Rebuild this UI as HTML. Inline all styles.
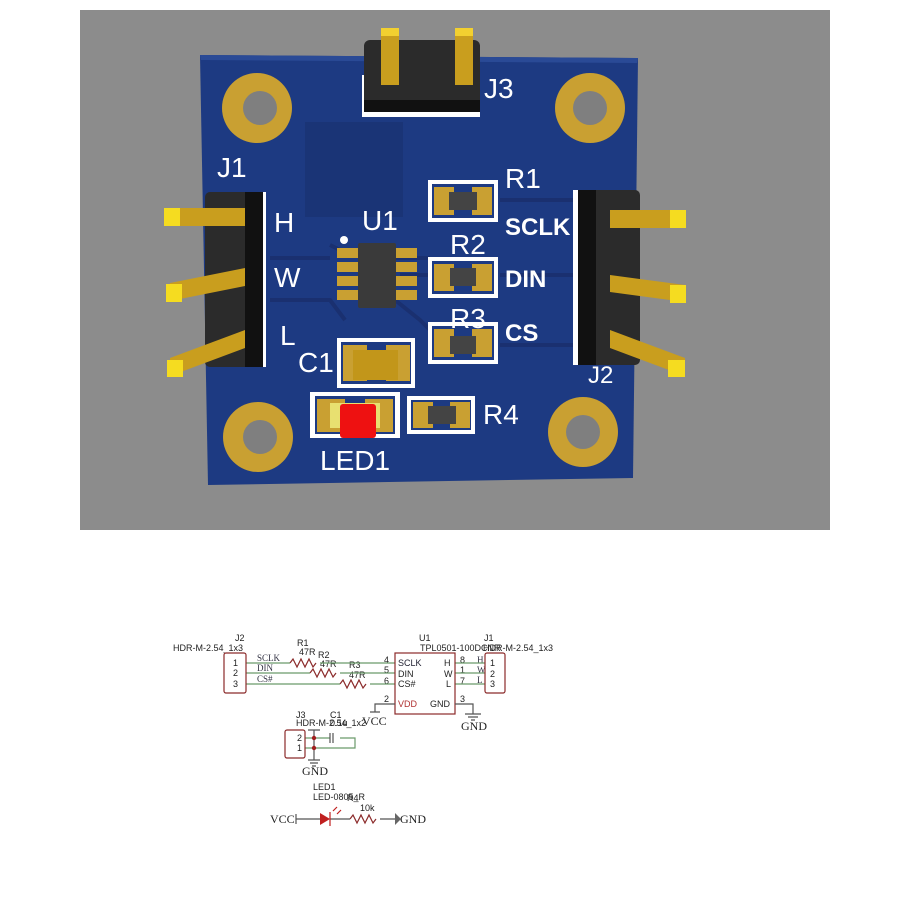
<!DOCTYPE html>
<html><head><meta charset="utf-8"><style>
html,body{margin:0;padding:0;background:#fff;width:900px;height:900px;overflow:hidden}
svg{display:block}
</style></head><body>
<svg width="900" height="900" viewBox="0 0 900 900" xmlns="http://www.w3.org/2000/svg">
<rect x="0" y="0" width="900" height="900" fill="#fff"/>
<rect x="80" y="10" width="750" height="520" fill="#8c8c8c"/>
<!-- board -->
<polygon points="200,55 638,58 633,478 208,485" fill="#1d3a82"/>
<polygon points="200,55 638,58 637,63 201,60" fill="#2a4a96"/>
<rect x="305" y="122" width="98" height="95" fill="#1a3476"/>
<!-- traces -->
<g stroke="#1a3070" stroke-width="4" fill="none">
<path d="M270,258 L330,258 M270,300 L330,300 L345,320 M330,245 L340,250 M395,258 L430,258 M400,275 L430,275 M395,300 L420,320 L430,330"/>
<path d="M500,200 L580,200 M500,275 L580,275 M500,345 L580,345"/>
</g>
<!-- mounting holes -->
<g fill="#c9a032">
<circle cx="257" cy="108" r="35"/><circle cx="590" cy="108" r="35"/>
<circle cx="258" cy="437" r="35"/><circle cx="583" cy="432" r="35"/>
</g>
<g fill="#7f7f7f">
<circle cx="260" cy="108" r="17"/><circle cx="590" cy="108" r="17"/>
<circle cx="260" cy="437" r="17"/><circle cx="583" cy="432" r="17"/>
</g>
<!-- J3 -->
<rect x="362" y="75" width="118" height="42" fill="#fff"/>
<rect x="364" y="40" width="116" height="72" rx="6" fill="#2b2b2b"/>
<rect x="364" y="100" width="116" height="12" fill="#111"/>
<rect x="381" y="30" width="18" height="55" fill="#c99e1e"/>
<rect x="455" y="30" width="18" height="55" fill="#c99e1e"/>
<rect x="381" y="28" width="18" height="8" fill="#f2d030"/>
<rect x="455" y="28" width="18" height="8" fill="#f2d030"/>
<!-- J1 -->
<rect x="250" y="192" width="16" height="175" fill="#fff"/>
<rect x="205" y="192" width="58" height="175" rx="5" fill="#2b2b2b"/>
<rect x="245" y="192" width="18" height="175" fill="#111"/>
<g fill="#c99e1e">
<rect x="170" y="208" width="75" height="18"/>
<polygon points="170,283 245,268 245,286 170,301"/>
<polygon points="170,358 245,330 245,348 170,376"/>
</g>
<g fill="#f5dc20">
<rect x="164" y="208" width="16" height="18"/><rect x="166" y="284" width="16" height="18"/><rect x="167" y="360" width="16" height="17"/>
</g>
<!-- J2 -->
<rect x="573" y="190" width="14" height="175" fill="#fff"/>
<rect x="578" y="190" width="62" height="175" rx="5" fill="#2b2b2b"/>
<rect x="578" y="190" width="18" height="175" fill="#111"/>
<g fill="#c99e1e">
<rect x="610" y="210" width="75" height="18"/>
<polygon points="610,275 685,285 685,302 610,292"/>
<polygon points="610,330 685,358 685,376 610,348"/>
</g>
<g fill="#f5dc20">
<rect x="670" y="210" width="16" height="18"/><rect x="670" y="285" width="16" height="18"/><rect x="668" y="360" width="17" height="17"/>
</g>
<!-- U1 -->
<g fill="#c9a032">
<rect x="337" y="248" width="22" height="10"/><rect x="337" y="262" width="22" height="10"/><rect x="337" y="276" width="22" height="10"/><rect x="337" y="290" width="22" height="10"/>
<rect x="395" y="248" width="22" height="10"/><rect x="395" y="262" width="22" height="10"/><rect x="395" y="276" width="22" height="10"/><rect x="395" y="290" width="22" height="10"/>
</g>
<rect x="358" y="243" width="38" height="65" rx="2" fill="#3a3a3a"/>
<circle cx="344" cy="240" r="4" fill="#fff"/>
<!-- resistors -->
<g>
<rect x="428" y="180" width="70" height="42" fill="#fff"/>
<rect x="432" y="184" width="62" height="34" fill="#1d3a82"/>
<rect x="434" y="187" width="20" height="28" fill="#c9a032"/><rect x="472" y="187" width="20" height="28" fill="#c9a032"/>
<rect x="449" y="192" width="28" height="18" fill="#444"/>
</g>
<g>
<rect x="428" y="257" width="70" height="41" fill="#fff"/>
<rect x="432" y="261" width="62" height="33" fill="#1d3a82"/>
<rect x="434" y="264" width="20" height="27" fill="#c9a032"/><rect x="472" y="264" width="20" height="27" fill="#c9a032"/>
<rect x="450" y="268" width="26" height="18" fill="#444"/>
</g>
<g>
<rect x="428" y="322" width="70" height="42" fill="#fff"/>
<rect x="432" y="326" width="62" height="34" fill="#1d3a82"/>
<rect x="434" y="329" width="20" height="28" fill="#c9a032"/><rect x="472" y="329" width="20" height="28" fill="#c9a032"/>
<rect x="450" y="336" width="26" height="18" fill="#444"/>
</g>
<g>
<rect x="407" y="396" width="68" height="38" fill="#fff"/>
<rect x="411" y="400" width="60" height="30" fill="#1d3a82"/>
<rect x="413" y="402" width="20" height="26" fill="#c9a032"/><rect x="450" y="402" width="20" height="26" fill="#c9a032"/>
<rect x="428" y="406" width="28" height="18" fill="#444"/>
</g>
<!-- C1 -->
<rect x="337" y="338" width="78" height="50" fill="#fff"/>
<rect x="341" y="342" width="70" height="42" fill="#1d3a82"/>
<rect x="343" y="345" width="24" height="36" fill="#c9a032"/><rect x="386" y="345" width="24" height="36" fill="#c9a032"/>
<rect x="353" y="350" width="45" height="30" fill="#c2961a"/>
<!-- LED1 -->
<rect x="310" y="392" width="90" height="46" fill="#fff"/>
<rect x="315" y="396" width="80" height="38" fill="#1d3a82"/>
<rect x="317" y="399" width="28" height="33" fill="#c9a032"/><rect x="365" y="399" width="28" height="33" fill="#c9a032"/>
<rect x="330" y="403" width="50" height="25" fill="#e8e070"/>
<rect x="340" y="404" width="36" height="34" rx="3" fill="#ee1111"/>
<!-- PCB labels -->
<g fill="#fff" font-family="Liberation Sans, sans-serif" font-size="28">
<text x="217" y="177">J1</text><text x="484" y="98">J3</text>
<text x="274" y="232">H</text><text x="274" y="287">W</text><text x="280" y="345">L</text>
<text x="362" y="230">U1</text><text x="505" y="188">R1</text><text x="450" y="254">R2</text><text x="450" y="328">R3</text>
<text x="298" y="372">C1</text><text x="483" y="424">R4</text><text x="320" y="470">LED1</text>
<text x="588" y="383" font-size="24">J2</text>
<text x="505" y="235" font-weight="bold" font-size="24">SCLK</text>
<text x="505" y="287" font-weight="bold" font-size="24">DIN</text>
<text x="505" y="341" font-weight="bold" font-size="24">CS</text>
</g>
<rect x="583" y="368" width="50" height="16" fill="#111" opacity="0"/>
<!-- schematic -->
<g font-family="Liberation Sans, sans-serif" font-size="9" fill="#222">
<text x="235" y="641">J2</text><text x="173" y="651">HDR-M-2.54_1x3</text>
<text x="297" y="646">R1</text><text x="299" y="655">47R</text>
<text x="318" y="658">R2</text><text x="320" y="667">47R</text>
<text x="349" y="668">R3</text><text x="349" y="678">47R</text>
<text x="419" y="641">U1</text><text x="420" y="651">TPL0501-100DCNR</text>
<text x="484" y="641">J1</text><text x="483" y="651">HDR-M-2.54_1x3</text>
<text x="296" y="718">J3</text><text x="296" y="726">HDR-M-2.54_1x2</text><text x="330" y="718">C1</text><text x="330" y="726">0.1u</text>
<text x="313" y="790">LED1</text><text x="313" y="800">LED-0805_R</text><text x="347" y="801">R4</text><text x="360" y="811">10k</text>
<text x="233" y="666">1</text><text x="233" y="676">2</text><text x="233" y="687">3</text>
<text x="384" y="663">4</text><text x="384" y="673">5</text><text x="384" y="684">6</text><text x="384" y="702">2</text>
<text x="398" y="666" fill="#223">SCLK</text><text x="398" y="677">DIN</text><text x="398" y="687">CS#</text>
<text x="398" y="707" fill="#b03030">VDD</text><text x="430" y="707">GND</text>
<text x="444" y="666">H</text><text x="444" y="677">W</text><text x="446" y="687">L</text>
<text x="460" y="663">8</text><text x="460" y="673">1</text><text x="460" y="684">7</text><text x="460" y="702">3</text>
<text x="490" y="666">1</text><text x="490" y="677">2</text><text x="490" y="687">3</text>
<text x="297" y="741">2</text><text x="297" y="751">1</text>
</g>
<g font-family="Liberation Serif, serif" font-size="9" fill="#334">
<text x="257" y="661">SCLK</text><text x="257" y="671">DIN</text><text x="257" y="682">CS#</text>
<text x="477" y="663">H</text><text x="477" y="673">W</text><text x="477" y="683">L</text>
</g>
<g font-family="Liberation Serif, serif" font-size="12" fill="#222">
<text x="362" y="725">VCC</text><text x="461" y="730">GND</text><text x="302" y="775">GND</text>
<text x="270" y="823">VCC</text><text x="400" y="823">GND</text>
</g>
<g fill="none" stroke="#6a9a6a" stroke-width="1.2">
<path d="M246,663 H290 M320,663 H395 M246,673 H310 M340,673 H395 M246,684 H340 M370,684 H395"/>
<path d="M455,663 H485 M455,673 H485 M455,684 H485"/>
<path d="M305,738 H330 M340,738 H355 V748 H305"/>
</g>
<g fill="none" stroke="#8b2a2a" stroke-width="1.2">
<path d="M290,663 l3,-4 4,8 4,-8 4,8 4,-8 4,8 3,-4"/>
<path d="M310,673 l3,-4 4,8 4,-8 4,8 4,-8 4,8 3,-4"/>
<path d="M340,684 l3,-4 4,8 4,-8 4,8 4,-8 4,8 3,-4"/>
<rect x="224" y="653" width="22" height="40" rx="2"/>
<rect x="395" y="653" width="60" height="61"/>
<rect x="485" y="653" width="20" height="40" rx="2"/>
<rect x="285" y="730" width="20" height="28" rx="2"/>
<path d="M350,819 l3,-4 4,8 4,-8 4,8 4,-8 4,8 3,-4"/>
</g>
<g fill="none" stroke="#555" stroke-width="1.2">
<path d="M395,704 H375 V712 M370,712 H380"/>
<path d="M455,704 H473 V714 M465,714 H481 M468,717 H478 M471,720 H475"/>
<path d="M314,730 V760 M308,730 H320 M308,760 H320 M310,763 H318 M312,766 H316"/>
<path d="M330,733 V743 M333,733 V743"/>
<path d="M296,819 H320 M296,814 V824 M330,819 H350 M380,819 H395"/>
</g>
<polygon points="395,813 395,825 401,819" fill="#666"/>
<circle cx="314" cy="738" r="2.2" fill="#a02020"/><circle cx="314" cy="748" r="2.2" fill="#a02020"/>
<polygon points="320,813 320,825 330,819" fill="#c02020"/>
<path d="M330,812 V826 M333,811 l4,-4 M337,814 l4,-4" stroke="#c02020" stroke-width="1.2" fill="none"/>
</svg>
</body></html>
